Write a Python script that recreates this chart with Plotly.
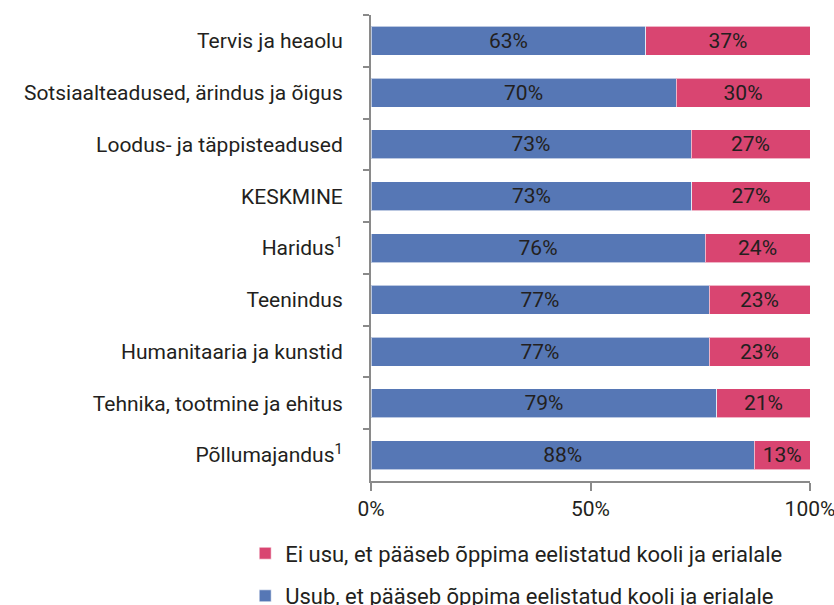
import plotly.graph_objects as go

categories = ['Tervis ja heaolu', 'Sotsiaalteadused, ärindus ja õigus', 'Loodus- ja täppisteadused',
              'KESKMINE', 'Haridus<sup>1</sup>', 'Teenindus', 'Humanitaaria ja kunstid',
              'Tehnika, tootmine ja ehitus', 'Põllumajandus<sup>1</sup>']
usub = [62.6, 69.5, 72.9, 73.1, 76.1, 77.0, 77.0, 78.8, 87.3]
ei_usu = [37.4, 30.5, 27.1, 26.9, 23.9, 23.0, 23.0, 21.2, 12.7]
usub_labels = ['63%', '70%', '73%', '73%', '76%', '77%', '77%', '79%', '88%']
ei_usu_labels = ['37%', '30%', '27%', '27%', '24%', '23%', '23%', '21%', '13%']

blue = '#5677b5'
pink = '#d94571'
txt = '#231f20'

fig = go.Figure()
fig.add_trace(go.Bar(
    y=categories, x=usub, orientation='h', name='Usub, et pääseb õppima eelistatud kooli ja erialale',
    marker=dict(color=blue, line=dict(color='rgba(255,255,255,0.6)', width=1)),
    text=usub_labels, textposition='inside', insidetextanchor='middle',
    textfont=dict(color=txt, size=21), legendrank=2, legendgroup='b'))
fig.add_trace(go.Bar(
    y=categories, x=ei_usu, orientation='h', name='Ei usu, et pääseb õppima eelistatud kooli ja erialale',
    marker=dict(color=pink, line=dict(color='rgba(255,255,255,0.6)', width=1)),
    text=ei_usu_labels, textposition='inside', insidetextanchor='middle',
    textfont=dict(color=txt, size=21), legendrank=1, legendgroup='a'))

fig.update_layout(
    barmode='stack', bargap=0.44,
    width=834, height=605,
    margin=dict(l=371, r=24, t=15, b=124, autoexpand=False),
    plot_bgcolor='white', paper_bgcolor='white',
    font=dict(family='Roboto', size=21, color=txt),
    uniformtext=dict(mode='show', minsize=21),
    legend=dict(orientation='v', xref='container', yref='container', x=0.294, xanchor='left',
                y=0.12, yanchor='top', traceorder='grouped', tracegroupgap=11, font=dict(size=22)),
)
fig.update_yaxes(autorange='reversed', showline=True, linecolor='#8a8a8a', linewidth=2,
                 ticks='outside', tickson='boundaries', ticklen=6, tickcolor='#8a8a8a', tickwidth=2,
                 ticklabelstandoff=22, automargin=False)
fig.update_xaxes(range=[0, 100], tickvals=[0, 50, 100], ticktext=['0%', '50%', '100%'],
                 showline=True, linecolor='#8a8a8a', linewidth=2, showgrid=False, zeroline=False,
                 ticks='outside', ticklen=8, tickcolor='#8a8a8a', tickwidth=2, automargin=False,
                 ticklabeloverflow='allow')

# the page keeps its default 8px body margin otherwise
fig.write_html('out.html', config={'displayModeBar': False},
               post_script="document.body.style.margin='0';")
